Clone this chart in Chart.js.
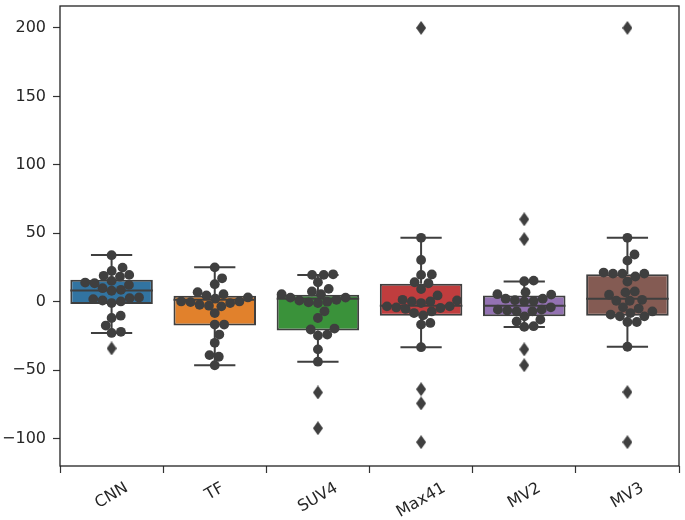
<!DOCTYPE html>
<html>
<head>
<meta charset="utf-8">
<script src="https://cdn.jsdelivr.net/npm/chart.js@4.4.1/dist/chart.umd.min.js"></script>
<style>
  html, body { margin: 0; padding: 0; background: #fff; }
  #wrap { width: 685px; height: 520px; }
</style>
</head>
<body>
<div id="wrap"><canvas id="chart" width="685" height="520"></canvas></div>
<script>
// categories
const labels = ['CNN', 'TF', 'SUV4', 'Max41', 'MV2', 'MV3'];
const boxColors = ['#3274a1', '#e1812c', '#3a923a', '#c03d3e', '#9372b2', '#845b53'];

// box stats
const q1 = [-1.7, -17.4, -21, -10.2, -10.7, -10.2];
const median = [8.2, 1.4, 2.2, -2.9, -2.9, 2.2];
const q3 = [16, 4.4, 5.1, 13.1, 4.6, 20];
const whiskerLow = [-22.8, -46.4, -43.8, -33.2, -18.4, -32.9];
const whiskerHigh = [34.1, 25.1, 19.6, 46.7, 14.7, 46.7];

// swarm points per model
const cnnVals = [34, 24.9, 22.5, 19.6, 18.9, 18.3, 15.2, 14, 13.5, 12.3, 9.9, 8.7, 8.0, 3.1, 2.6, 1.9, 0.9, 0.2, -1, -10.2, -11.9, -17.4, -22, -22.8];
const tfVals = [25.1, 17.1, 12.8, 7, 5.5, 4.6, 3.1, 2.2, 0.2, 0.2, -0.3, -1, -2.2, -2.9, -3.4, -8.3, -16.7, -16.7, -24, -30, -39, -40.2, -46.4];
const suv4Vals = [20, 19.6, 19.6, 14.2, 9.4, 7.5, 5.5, 5.5, 3, 3, 1.4, 0, -0.5, -1, 0.9, -7, -11.9, -19.6, -20.3, -24, -24.7, -34.8, -43.8];
const max41Vals = [46.7, 30.5, 19.9, 19.6, 14.2, 13.5, 9.2, 4.6, 1.4, 0.9, 0.2, 0.2, -1, -3.4, -3.4, -4.2, -4.6, -5.3, -7.1, -8.3, -10, -15.5, -16.7, -33.2];
const mv2Vals = [15.4, 15, 7, 5.5, 5.2, 2.2, 2.2, 1.1, 0.5, 0.2, -4.1, -5.8, -5.8, -6.4, -7, -7, -10.7, -13.1, -14.4, -17.9, -18.4];
const mv3Vals = [46.7, 34.5, 30, 21.3, 20.5, 20.5, 20.5, 18.4, 14.7, 7.5, 6.8, 5.1, 1.4, 0.7, 0.7, -4.1, -5, -7.1, -8.3, -9.4, -10.7, -10.7, -14.8, -14.8, -32.9];
const swarmGroups = [cnnVals, tfVals, suv4Vals, max41Vals, mv2Vals, mv3Vals];

// fliers
const outliers = [[-34.1], [], [-66.3, -92.4], [200, -63.9, -74.3, -102.6], [60.2, 45.7, -34.8, -46.4], [200, -66, -102.6]];

const yTicks = [-100, -50, 0, 50, 100, 150, 200];

const lineColor = '#3f3f3f';
const font = 'DejaVu Sans';

// thin diamond marker like matplotlib 'd'
const diamond = document.createElement('canvas');
diamond.width = 10; diamond.height = 14;
(function () {
  const g = diamond.getContext('2d');
  g.fillStyle = lineColor;
  g.beginPath();
  g.moveTo(5, 0); g.lineTo(10, 7); g.lineTo(5, 14); g.lineTo(0, 7);
  g.closePath(); g.fill();
})();

const boxData = labels.map((l, i) => ({x: i, y: [q1[i], q3[i]]}));
const flierData = [];
outliers.forEach((arr, i) => arr.forEach(v => flierData.push({x: i, y: v})));
const pointData = [];
swarmGroups.forEach((vals, i) => vals.forEach(v => pointData.push({x: i, y: v})));

const boxParts = {
  id: 'boxParts',
  beforeDatasetsDraw(chart) {
    const ctx = chart.ctx, ys = chart.scales.y;
    const bars = chart.getDatasetMeta(2).data;
    ctx.save();
    ctx.strokeStyle = lineColor;
    ctx.lineWidth = 2;
    labels.forEach((l, i) => {
      const b = bars[i];
      const cx = b.x, half = b.width / 4;
      const lo = ys.getPixelForValue(whiskerLow[i]);
      const hi = ys.getPixelForValue(whiskerHigh[i]);
      ctx.beginPath();
      ctx.moveTo(cx, ys.getPixelForValue(q1[i])); ctx.lineTo(cx, lo);
      ctx.moveTo(cx, ys.getPixelForValue(q3[i])); ctx.lineTo(cx, hi);
      ctx.moveTo(cx - half, lo); ctx.lineTo(cx + half, lo);
      ctx.moveTo(cx - half, hi); ctx.lineTo(cx + half, hi);
      ctx.stroke();
    });
    ctx.restore();
  },
  afterDatasetDraw(chart, args) {
    if (args.meta.type !== 'bar') return;
    const ctx = chart.ctx, ys = chart.scales.y;
    ctx.save();
    ctx.strokeStyle = lineColor;
    ctx.lineWidth = 2;
    args.meta.data.forEach((b, i) => {
      const y = ys.getPixelForValue(median[i]);
      ctx.beginPath();
      ctx.moveTo(b.x - b.width / 2, y); ctx.lineTo(b.x + b.width / 2, y);
      ctx.stroke();
    });
    ctx.restore();
  },
  afterDatasetsDraw(chart) {
    const ctx = chart.ctx, a = chart.chartArea, xs = chart.scales.x;
    ctx.save();
    ctx.strokeStyle = '#222';
    ctx.lineWidth = 1.3;
    ctx.strokeRect(a.left, a.top, a.right - a.left, a.bottom - a.top);
    ctx.fillStyle = '#262626';
    ctx.font = '16px "' + font + '"';
    ctx.textAlign = 'center';
    ctx.textBaseline = 'middle';
    labels.forEach((l, i) => {
      const w = ctx.measureText(l).width;
      const cx = xs.getPixelForValue(i);
      const cy = a.bottom + 16 + (w * 0.5 + 10) / 2;
      ctx.save();
      ctx.translate(cx, cy);
      ctx.rotate(-Math.PI / 6);
      ctx.fillText(l, 0, 0);
      ctx.restore();
    });
    ctx.restore();
  }
};

const chart = new Chart(document.getElementById('chart'), {
  type: 'bar',
  data: {
    datasets: [
      {
        type: 'scatter',
        data: flierData,
        pointStyle: diamond,
        pointRadius: 5,
        order: 0
      },
      {
        type: 'scatter',
        data: pointData,
        backgroundColor: lineColor,
        borderWidth: 0,
        pointRadius: 4.9,
        order: 1
      },
      {
        type: 'bar',
        data: boxData,
        backgroundColor: boxColors,
        borderColor: lineColor,
        borderWidth: 2,
        borderSkipped: false,
        categoryPercentage: 0.8,
        barPercentage: 1,
        order: 2
      }
    ]
  },
  options: {
    responsive: false,
    animation: false,
    layout: {padding: {top: 2, right: 2, left: 0, bottom: 0}},
    plugins: {legend: {display: false}, tooltip: {enabled: false}},
    scales: {
      x: {
        type: 'linear',
        min: -0.5,
        max: 5.5,
        offset: false,
        ticks: {display: false, stepSize: 1, includeBounds: false},
        grid: {offset: false, drawOnChartArea: false, tickLength: 7, color: '#333', tickWidth: 1.2},
        border: {display: false},
        afterFit: s => { s.height = 54; s.paddingLeft = 0; s.paddingRight = 0; }
      },
      y: {
        min: -120,
        max: 216,
        afterBuildTicks: s => { s.ticks = yTicks.map(v => ({value: v})); },
        ticks: {
          padding: 7,
          color: '#262626',
          font: {family: font, size: 16},
          callback: v => String(v).replace('-', '\u2212')
        },
        grid: {drawOnChartArea: false, tickLength: 7, color: '#333', tickWidth: 1.2},
        border: {display: false},
        afterFit: s => { s.width = 60; s.paddingTop = 0; s.paddingBottom = 0; }
      }
    }
  },
  plugins: [boxParts]
});

// beeswarm offsets, worked out in pixels then turned back into x units
function swarm(py, d) {
  const order = py.map((v, i) => i).sort((a, b) => py[b] - py[a]);
  const placed = [];
  const offs = new Array(py.length);
  for (const i of order) {
    const y = py[i];
    const cands = [0];
    for (const p of placed) {
      const dy = Math.abs(p.y - y);
      if (dy < d) {
        const dx = Math.sqrt(d * d - dy * dy);
        cands.push(p.x + dx, p.x - dx);
      }
    }
    cands.sort((a, b) => Math.abs(a) - Math.abs(b));
    const x = cands.find(c => placed.every(p => (p.x - c) ** 2 + (p.y - y) ** 2 >= d * d - 0.01));
    placed.push({x, y});
    offs[i] = x;
  }
  return offs;
}

const xs = chart.scales.x, ys = chart.scales.y;
const pxPerX = xs.getPixelForValue(1) - xs.getPixelForValue(0);
const swarmed = [];
swarmGroups.forEach((vals, i) => {
  const offs = swarm(vals.map(v => ys.getPixelForValue(v)), 9.4);
  vals.forEach((v, j) => swarmed.push({x: i + offs[j] / pxPerX, y: v}));
});
chart.data.datasets[1].data = swarmed;
chart.update('none');
</script>
</body>
</html>
